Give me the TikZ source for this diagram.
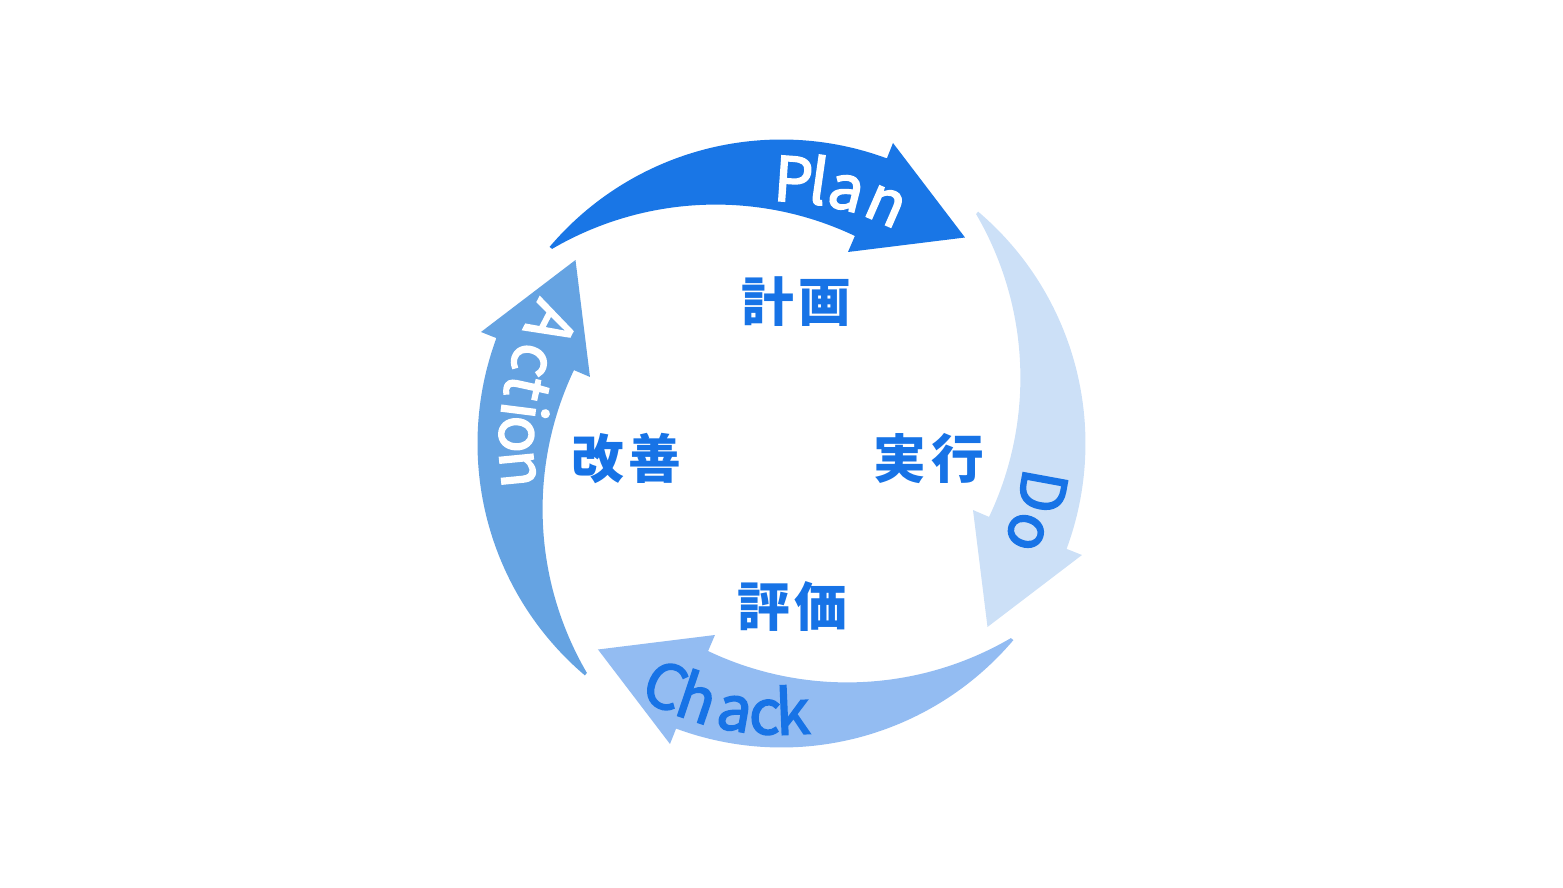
\documentclass[tikz,border=0pt]{standalone}
\usepackage{fontspec}
\newfontfamily\jpfont{Noto Sans CJK JP}
\newfontfamily\letterfont[FakeBold=2.6]{Noto Sans CJK JP}
\definecolor{planblue}{HTML}{1976E6}
\definecolor{dolight}{HTML}{CCE0F7}
\definecolor{checkblue}{HTML}{93BCF2}
\definecolor{actblue}{HTML}{65A3E2}
\definecolor{txtblue}{HTML}{1773E6}
\begin{document}
\begin{tikzpicture}[x=0.01cm,y=0.01cm,
  letter/.style={anchor=base, inner sep=0pt, outer sep=0pt, font=\letterfont\fontsize{17.5}{17.5}\selectfont},
  wletter/.style={letter, text=white},
  bletter/.style={letter, text=txtblue},
  jplabel/.style={inner sep=0pt, text=txtblue, font=\jpfont\bfseries\fontsize{15}{15}\selectfont}]
\useasboundingbox (-781.5,-444.5) rectangle (781.5,443.5);
% four curved arrows (Plan arrow rotated clockwise)
\foreach \ang/\col in {0/planblue,-90/dolight,-180/checkblue,90/actblue}{
  \fill[\col, rotate=\ang] (-229.4,194.6) arc[start angle=120.3, end angle=64.6, radius=324.4]
    -- (66.5,191.5) -- (183.5,206) -- (111.5,300.5) -- (105.4,285.1)
    arc[start angle=69.7, end angle=139.7, radius=304] -- cycle;
}
% Plan
\node[wletter, rotate=-4]    (p1) at (87.5:242) {P};
\node[wletter, rotate=-8.1]  (p2) at (81.9:242) {l};
\node[wletter, rotate=-14.4] (p3) at (75.6:242) {a};
\node[wletter, rotate=-23.6] (p4) at (66.4:242) {n};
% Do
\node[bletter, rotate=-100.4] (d1) at (-10.4:243) {D};
\node[bletter, rotate=-109.8] (d2) at (-19.8:243) {o};
% Chack
\node[bletter, rotate=-25]   (c1) at (-115.6:291) {C};
\node[bletter, rotate=-18.5] (c2) at (-108.3:291) {h};
\node[bletter, rotate=-9.9]  (c3) at (-99.9:291) {a};
\node[bletter, rotate=-3.5]  (c4) at (-93.5:291) {c};
\node[bletter, rotate=2.4]   (c5) at (-87.6:291) {k};
% Action
\node[wletter, rotate=-117.5] (a1) at (152.5:282) {A};
\node[wletter, rotate=-108.5] (a2) at (161.5:282) {c};
\node[wletter, rotate=-102.3] (a3) at (167.7:282) {t};
\node[wletter, rotate=-97.2]  (a4) at (172.8:282) {i};
\node[wletter, rotate=-92]    (a5) at (178:282) {o};
\node[wletter, rotate=-84.5]  (a6) at (185.5:282) {n};
% centre labels
\node[jplabel] (jplan)  at (15,142)     {計\hspace{0.045cm}画};
\node[jplabel] (jdo)    at (147.5,-15.5) {実\hspace{0.045cm}行};
\node[jplabel] (jcheck) at (11,-163)    {評\hspace{0.045cm}価};
\node[jplabel] (jact)   at (-155,-15.5) {改\hspace{0.045cm}善};
\end{tikzpicture}
\end{document}
